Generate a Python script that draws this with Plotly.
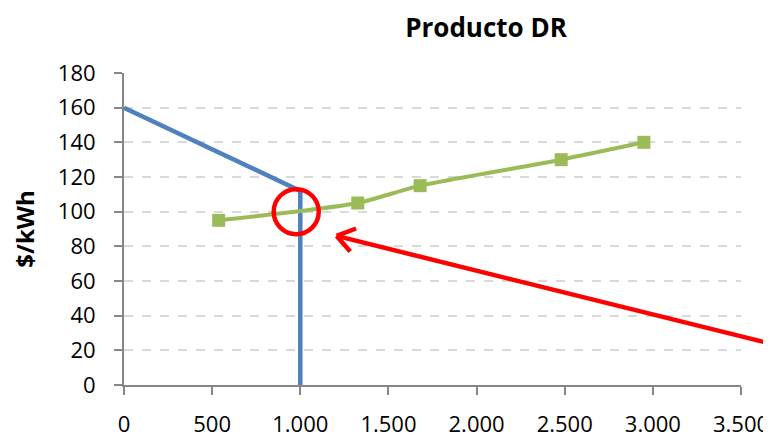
import plotly.graph_objects as go

# Demand (blue) curve
demand_x = [0, 1000, 1000]
demand_y = [160, 112, 0]

# Supply (green) curve
supply_x = [537, 1326, 1680, 2480, 2949]
supply_y = [95, 105, 115, 130, 140]

# Highlight circle centre and arrow (data units)
circle_center = (977, 100)
arrow_tip = (1206, 86)
arrow_tail = (3800, 20.5)

x_ticks = [0, 500, 1000, 1500, 2000, 2500, 3000, 3500]
y_ticks = [0, 20, 40, 60, 80, 100, 120, 140, 160, 180]

BLUE = "#4F81BD"
GREEN = "#9BBB59"
RED = "#FF0000"
FONT = "Open Sans"

fig = go.Figure()
fig.add_trace(go.Scatter(x=demand_x, y=demand_y, mode="lines",
                         line=dict(color=BLUE, width=4.5), showlegend=False,
                         cliponaxis=False))
fig.add_trace(go.Scatter(x=supply_x, y=supply_y, mode="lines+markers",
                         line=dict(color=GREEN, width=4, shape="spline", smoothing=0.6),
                         marker=dict(symbol="square", size=13, color=GREEN),
                         showlegend=False))

# red circle
fig.add_shape(type="circle", xref="x", yref="y", xsizemode="pixel", ysizemode="pixel",
              xanchor=circle_center[0], yanchor=circle_center[1],
              x0=-22.5, x1=22.5, y0=-22.5, y1=22.5,
              line=dict(color=RED, width=4.5))

# red arrow shaft
fig.add_annotation(x=arrow_tip[0], y=arrow_tip[1], ax=arrow_tail[0], ay=arrow_tail[1],
                   axref="x", ayref="y", xref="x", yref="y", text="",
                   showarrow=True, arrowhead=0, arrowwidth=4.5, arrowcolor=RED)
# arrow head arms (pixel offsets)
for dx, dy in [(21, -8), (15, 17)]:
    fig.add_annotation(x=arrow_tip[0], y=arrow_tip[1], ax=dx, ay=dy,
                       xref="x", yref="y", text="",
                       showarrow=True, arrowhead=0, arrowwidth=4.5, arrowcolor=RED)

fig.update_layout(
    width=771, height=443,
    margin=dict(l=116, r=38, t=65, b=66, autoexpand=False),
    plot_bgcolor="white", paper_bgcolor="white",
    separators=",.",
    font=dict(family=FONT, size=22, color="black"),
    title=dict(text="<b>Producto DR</b>", x=0.620, xanchor="center",
               y=0.975, yanchor="top", font=dict(family=FONT, size=26)),
)
fig.update_xaxes(range=[0, 3500], tickvals=x_ticks, tickformat=",d",
                 automargin=False,
                 showgrid=False, zeroline=False,
                 showline=True, linecolor="#868686", linewidth=2,
                 ticks="outside", ticklen=8, tickwidth=2, tickcolor="#868686",
                 ticklabelstandoff=11,
                 tickfont=dict(family=FONT, size=22))
fig.update_yaxes(range=[0, 180], tickvals=y_ticks,
                 automargin=False,
                 showgrid=True, gridcolor="#D9D9D9", gridwidth=2, griddash="dash",
                 zeroline=False,
                 showline=True, linecolor="#868686", linewidth=2,
                 ticks="outside", ticklen=8, tickwidth=2, tickcolor="#868686",
                 ticklabelstandoff=14,
                 tickfont=dict(family=FONT, size=22),
                 title=dict(text="<b>$/kWh</b>", standoff=20,
                            font=dict(family=FONT, size=24)))

fig.write_html("out.html")
